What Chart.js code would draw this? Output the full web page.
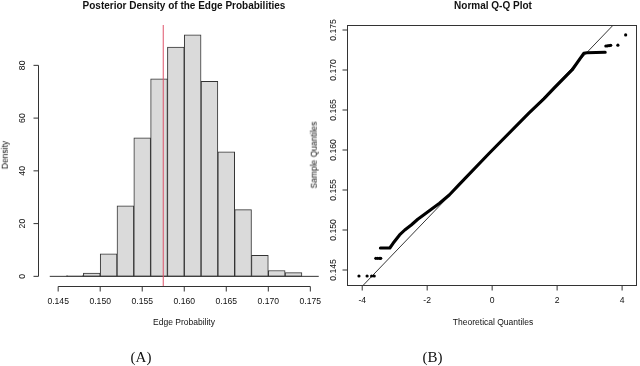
<!DOCTYPE html>
<html>
<head>
<meta charset="utf-8">
<script src="https://cdn.jsdelivr.net/npm/chart.js@4.4.1/dist/chart.umd.min.js"></script>
<style>
  body { margin: 0; background: #fff; }
  #wrap { position: relative; width: 640px; height: 366px; overflow: hidden; font-family: "Liberation Sans", Arial, sans-serif; color: #111; }
  canvas { position: absolute; left: 0; top: 0; }
  .lbl { position: absolute; transform: translate(-50%, -50%); white-space: nowrap; line-height: 1; font-size: 8.5px; }
  .rot { transform: translate(-50%, -50%) rotate(-90deg); }
  .ttl { font-weight: bold; font-size: 10px; }
  .cap { font-family: "Liberation Serif", "DejaVu Serif", serif; font-size: 15px; }
</style>
</head>
<body>
<div id="wrap">
  <canvas id="histChart" width="640" height="366"></canvas>
  <canvas id="qqChart" width="640" height="366"></canvas>
  <div class="lbl ttl" style="left:184px; top:6px;">Posterior Density of the Edge Probabilities</div>
  <div class="lbl rot" style="left:4.5px; top:155px;">Density</div>
  <div class="lbl" style="left:184px; top:322px;">Edge Probability</div>
  <div class="lbl cap" style="left:141px; top:357px;">(A)</div>
  <div class="lbl ttl" style="left:493px; top:6px;">Normal Q-Q Plot</div>
  <div class="lbl rot" style="left:313.5px; top:155px;">Sample Quantiles</div>
  <div class="lbl" style="left:493px; top:322px;">Theoretical Quantiles</div>
  <div class="lbl cap" style="left:432.5px; top:357px;">(B)</div>
</div>
<script>
// Histogram (panel A)
const histBreaks = [0.144, 0.146, 0.148, 0.150, 0.152, 0.154, 0.156, 0.158, 0.160,
                    0.162, 0.164, 0.166, 0.168, 0.170, 0.172, 0.174, 0.176];
const histDensity = [0, 0.3, 1.25, 8.5, 26.7, 52.5, 74.9, 86.9, 91.6, 73.9, 47.2, 25.3, 8.0, 2.2, 1.4, 0];
const meanEdgeProb = 0.1575;
const histXLimits = [0.14272, 0.17728];
const histYLimits = [-3.66, 95.3];
const histXTicks = [0.145, 0.150, 0.155, 0.160, 0.165, 0.170, 0.175];
const histXLabels = ['0.145', '0.150', '0.155', '0.160', '0.165', '0.170', '0.175'];
const histYTicks = [0, 20, 40, 60, 80];
const histYLabels = ['0', '20', '40', '60', '80'];

// Normal Q-Q plot (panel B)
const qqBodyX = [-3.44, -3.15, -3.05, -2.85, -2.69, -2.49, -2.29, -2.08, -1.83, -1.62, -1.32, -1.01,
                 -0.09, 1.13, 1.59, 1.90, 2.46, 2.82, 2.92, 3.48];
const qqBodyY = [0.14775, 0.14775, 0.14834, 0.14938, 0.15000, 0.15063, 0.15134, 0.15196, 0.15271, 0.15334, 0.15438, 0.15570,
                 0.15960, 0.16460, 0.16640, 0.16771, 0.17000, 0.17209, 0.17215, 0.17221];
const qqTailX = [-4.10, -3.85, -3.71, -3.63, -3.58, -3.52, -3.46, -3.43, 3.50, 3.55, 3.60, 3.65, 3.87, 4.11];
const qqTailY = [0.14425, 0.14425, 0.14425, 0.14425, 0.14646, 0.14646, 0.14646, 0.14646,
                 0.17300, 0.17302, 0.17305, 0.17308, 0.17310, 0.17438];
const qqLineX = [-3.97, 3.73];
const qqLineY = [0.14309, 0.17563];
const qqXLimits = [-4.428, 4.428];
const qqYLimits = [0.143088, 0.175625];
const qqXTicks = [-4, -2, 0, 2, 4];
const qqXLabels = ['-4', '-2', '0', '2', '4'];
const qqYTicks = [0.145, 0.150, 0.155, 0.160, 0.165, 0.170, 0.175];
const qqYLabels = ['0.145', '0.150', '0.155', '0.160', '0.165', '0.170', '0.175'];

// R style axes: line from first to last tick, ticks outwards, rotated y labels
const rAxes = {
    id: 'rAxes',
    afterDraw(chart, args, opts) {
        const ctx = chart.ctx;
        const xs = chart.scales.x, ys = chart.scales.y;
        const area = chart.chartArea;
        ctx.save();
        ctx.strokeStyle = '#333';
        ctx.fillStyle = '#111';
        ctx.lineWidth = 1;
        ctx.font = '8.6px "Liberation Sans", Arial, sans-serif';
        ctx.textAlign = 'center';
        ctx.textBaseline = 'middle';

        const yb = Math.round(area.bottom) + 0.5;
        const xp = opts.xTicks.map(v => xs.getPixelForValue(v));
        ctx.beginPath();
        ctx.moveTo(xp[0], yb);
        ctx.lineTo(xp[xp.length - 1], yb);
        xp.forEach(p => { ctx.moveTo(p, yb); ctx.lineTo(p, yb + 5); });
        ctx.stroke();
        xp.forEach((p, i) => ctx.fillText(opts.xLabels[i], p, yb + 15));

        const xl = Math.round(area.left) - 0.5;
        const yp = opts.yTicks.map(v => ys.getPixelForValue(v));
        ctx.beginPath();
        ctx.moveTo(xl, yp[0]);
        ctx.lineTo(xl, yp[yp.length - 1]);
        yp.forEach(p => { ctx.moveTo(xl, p); ctx.lineTo(xl - 5, p); });
        ctx.stroke();
        yp.forEach((p, i) => {
            ctx.save();
            ctx.translate(xl - opts.yLabelGap, p);
            ctx.rotate(-Math.PI / 2);
            ctx.fillText(opts.yLabels[i], 0, 0);
            ctx.restore();
        });

        if (opts.box) {
            ctx.strokeRect(xl, Math.round(area.top) + 0.5, Math.round(area.right) - xl + 0.5, yb - Math.round(area.top) - 0.5);
        }
        ctx.restore();
    }
};

const histMid = histDensity.map((d, i) => ({ x: (histBreaks[i] + histBreaks[i + 1]) / 2, y: d }));

new Chart(document.getElementById('histChart'), {
    type: 'bar',
    data: {
        datasets: [{
            type: 'line',
            data: [{ x: meanEdgeProb, y: histYLimits[0] }, { x: meanEdgeProb, y: histYLimits[1] }],
            borderColor: '#df536b',
            borderWidth: 1,
            pointRadius: 0
        }, {
            type: 'line',
            data: [{ x: histBreaks[0], y: 0 }, { x: histBreaks[histBreaks.length - 1], y: 0 }],
            borderColor: '#333',
            borderWidth: 1,
            pointRadius: 0
        }, {
            data: histMid,
            backgroundColor: '#dadada',
            borderColor: '#333',
            borderWidth: 1,
            borderSkipped: false,
            barPercentage: 1,
            categoryPercentage: 1
        }]
    },
    options: {
        responsive: false,
        animation: false,
        layout: { padding: { left: 39, right: 310.5, top: 25, bottom: 80 } },
        scales: {
            x: { type: 'linear', display: false, offset: false, min: histXLimits[0], max: histXLimits[1] },
            y: { display: false, min: histYLimits[0], max: histYLimits[1] }
        },
        plugins: {
            legend: { display: false },
            tooltip: { enabled: false },
            rAxes: { xTicks: histXTicks, xLabels: histXLabels, yTicks: histYTicks, yLabels: histYLabels, yLabelGap: 16, box: false }
        }
    },
    plugins: [rAxes]
});

new Chart(document.getElementById('qqChart'), {
    type: 'scatter',
    data: {
        datasets: [{
            data: qqLineX.map((x, i) => ({ x: x, y: qqLineY[i] })),
            showLine: true,
            borderColor: '#000',
            borderWidth: 0.8,
            pointRadius: 0
        }, {
            data: qqBodyX.map((x, i) => ({ x: x, y: qqBodyY[i] })),
            showLine: true,
            borderColor: '#000',
            borderWidth: 3.1,
            borderCapStyle: 'round',
            borderJoinStyle: 'round',
            pointRadius: 0
        }, {
            data: qqTailX.map((x, i) => ({ x: x, y: qqTailY[i] })),
            backgroundColor: '#000',
            borderWidth: 0,
            pointRadius: 1.6
        }]
    },
    options: {
        responsive: false,
        animation: false,
        layout: { padding: { left: 348.3, right: 2.3, top: 25, bottom: 80.7 } },
        scales: {
            x: { type: 'linear', display: false, min: qqXLimits[0], max: qqXLimits[1] },
            y: { type: 'linear', display: false, min: qqYLimits[0], max: qqYLimits[1] }
        },
        plugins: {
            legend: { display: false },
            tooltip: { enabled: false },
            rAxes: { xTicks: qqXTicks, xLabels: qqXLabels, yTicks: qqYTicks, yLabels: qqYLabels, yLabelGap: 14, box: true }
        }
    },
    plugins: [rAxes]
});
</script>
</body>
</html>
